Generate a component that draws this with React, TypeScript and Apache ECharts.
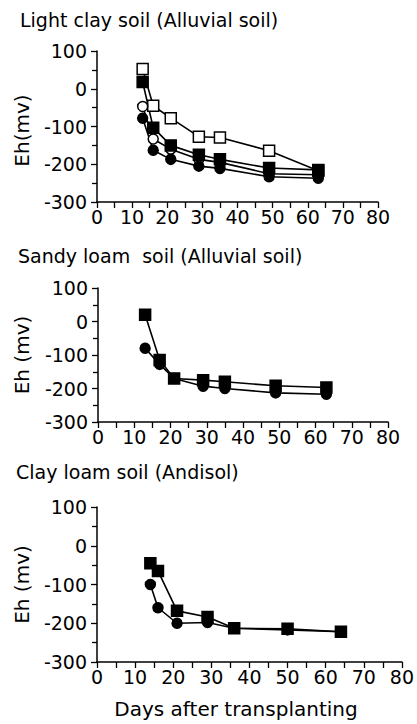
import React, { useEffect, useRef } from "react";
import * as echarts from "echarts";

// Days after transplanting (x) and Eh readings in mV (y) for each soil.
const lightDays = [13, 16, 21, 29, 35, 49, 63];
const lightOpenSquare = [52, -45, -78, -127, -129, -164, -217];
const lightFilledSquare = [18, -103, -150, -175, -187, -210, -215];
const lightOpenCircle = [-47, -133, -160, -187, -195, -225, -228];
const lightFilledCircle = [-78, -163, -187, -205, -211, -233, -237];

const sandyDays = [13, 17, 21, 29, 35, 49, 63];
const sandyFilledSquare = [20, -115, -170, -175, -180, -192, -197];
const sandyFilledCircle = [-80, -128, -170, -193, -200, -213, -217];

const clayDays = [14, 16, 21, 29, 36, 50, 64];
const clayFilledSquare = [-45, -65, -168, -184, -213, -214, -222];
const clayFilledCircle = [-100, -160, -200, -198, -213, -217, -222];

const panelTitles = [
  "Light clay soil (Alluvial soil)",
  "Sandy loam  soil (Alluvial soil)",
  "Clay loam soil (Andisol)",
];
const yNames = ["Eh(mv)", "Eh (mv)", "Eh (mv)"];
const xName = "Days after transplanting";

const FONT = "DejaVu Sans";
const INK = "#000";

// Plot areas: [left, top, width, height]
const grids = [
  [97, 51, 281, 151],
  [98, 288, 290, 134],
  [97, 507, 305, 155],
];

const pairs = (xs: number[], ys: number[]) => xs.map((x, i) => [x, ys[i]]);

function lineSeries(
  gridIdx: number,
  xs: number[],
  ys: number[],
  shape: "circle" | "rect",
  filled: boolean
) {
  return {
    type: "line",
    xAxisIndex: gridIdx,
    yAxisIndex: gridIdx,
    data: pairs(xs, ys),
    symbol: shape,
    symbolSize: shape === "rect" ? 11 : 10,
    showAllSymbol: true,
    lineStyle: { color: INK, width: 1.6 },
    itemStyle: {
      color: filled ? INK : "#fff",
      borderColor: INK,
      borderWidth: 1.5,
      opacity: 1,
    },
    emphasis: { disabled: true },
  };
}

export default function App() {
  const ref = useRef<HTMLDivElement>(null);

  useEffect(() => {
    document.body.style.margin = "0";
    if (!ref.current) return;
    const chart = echarts.init(ref.current, null, { renderer: "svg" });

    const axisLine = { show: true, onZero: false, lineStyle: { color: INK, width: 1.5 } };
    const tickStyle = { color: INK, width: 1.3 };
    const labelStyle = { color: INK, fontSize: 19, fontFamily: FONT };

    const xAxes = grids.map((_, i) => ({
      type: "value",
      gridIndex: i,
      min: 0,
      max: 80,
      interval: 10,
      axisLine,
      axisTick: { show: true, length: 6, lineStyle: tickStyle },
      minorTick: { show: true, splitNumber: 2, length: 6, lineStyle: tickStyle },
      axisLabel: { ...labelStyle, margin: 5 },
      splitLine: { show: false },
      minorSplitLine: { show: false },
    }));

    const yAxes = grids.map((_, i) => ({
      type: "value",
      gridIndex: i,
      min: -300,
      max: 100,
      interval: 100,
      axisLine,
      axisTick: { show: true, length: 6, lineStyle: tickStyle },
      minorTick: { show: true, splitNumber: 2, length: 5, lineStyle: tickStyle },
      axisLabel: { ...labelStyle, margin: 10 },
      splitLine: { show: false },
      minorSplitLine: { show: false },
    }));

    const titleTops = [10, 246, 462];
    const titleLefts = [20, 18, 16];

    const graphic: any[] = [];
    panelTitles.forEach((t, i) => {
      graphic.push({
        type: "text",
        left: titleLefts[i],
        top: titleTops[i],
        style: { text: t, fill: INK, font: `19px '${FONT}'` },
      });
    });
    grids.forEach((g, i) => {
      graphic.push({
        type: "text",
        x: 22,
        y: g[1] + g[3] / 2 + (i === 0 ? 4 : 0),
        rotation: Math.PI / 2,
        style: {
          text: yNames[i],
          fill: INK,
          font: `20px '${FONT}'`,
          textAlign: "center",
          textVerticalAlign: "middle",
        },
      });
    });
    graphic.push({
      type: "text",
      x: 236,
      y: 709,
      style: {
        text: xName,
        fill: INK,
        font: `20px '${FONT}'`,
        textAlign: "center",
        textVerticalAlign: "middle",
      },
    });

    chart.setOption({
      animation: false,
      backgroundColor: "#fff",
      grid: grids.map((g) => ({ left: g[0], top: g[1], width: g[2], height: g[3] })),
      xAxis: xAxes,
      yAxis: yAxes,
      graphic,
      // open-marker series first so the filled markers sit on top where they coincide
      series: [
        lineSeries(0, lightDays, lightOpenSquare, "rect", false),
        lineSeries(0, lightDays, lightOpenCircle, "circle", false),
        lineSeries(0, lightDays, lightFilledCircle, "circle", true),
        lineSeries(0, lightDays, lightFilledSquare, "rect", true),
        lineSeries(1, sandyDays, sandyFilledCircle, "circle", true),
        lineSeries(1, sandyDays, sandyFilledSquare, "rect", true),
        lineSeries(2, clayDays, clayFilledCircle, "circle", true),
        lineSeries(2, clayDays, clayFilledSquare, "rect", true),
      ],
    });

    return () => chart.dispose();
  }, []);

  return <div ref={ref} style={{ width: 417, height: 724 }} />;
}
